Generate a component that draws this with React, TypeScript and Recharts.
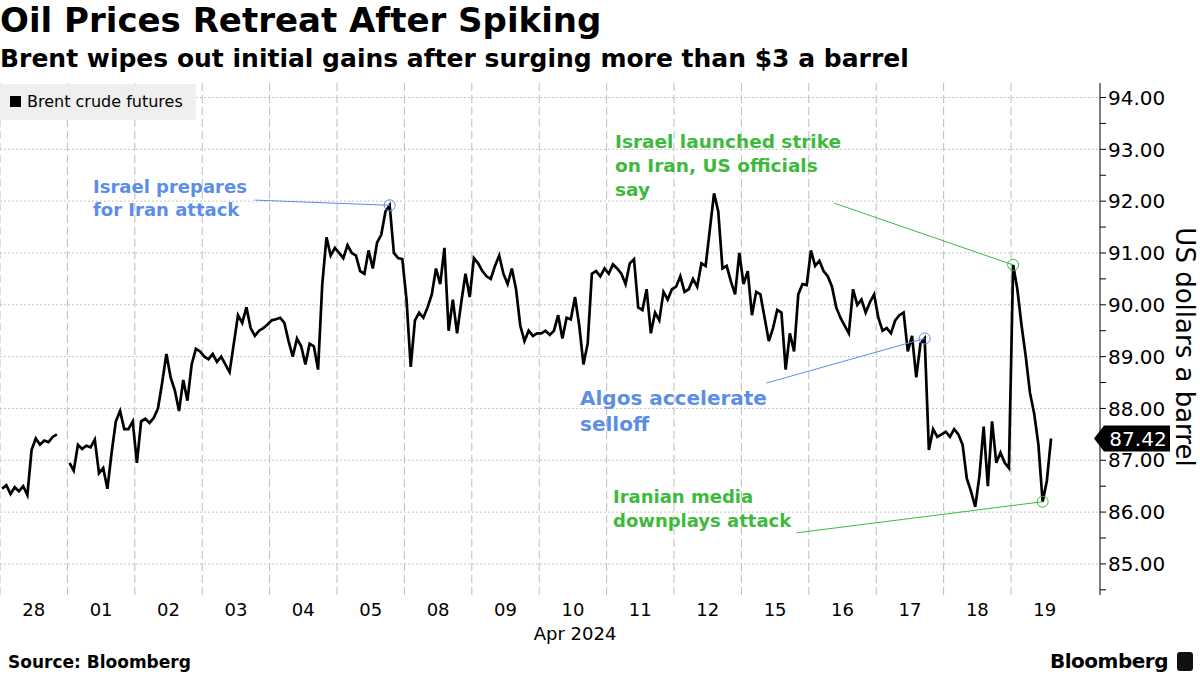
import React from "react"
import {
  LineChart,
  Line,
  XAxis,
  YAxis,
  CartesianGrid,
  ReferenceLine,
  ReferenceDot,
} from "recharts"

// Trading days shown on the x axis
const dayLabels = ["28", "01", "02", "03", "04", "05", "08", "09", "10", "11", "12", "15", "16", "17", "18", "19"]

// Brent crude futures, intraday samples per day (USD / barrel)
const mar28 = [86.45, 86.52, 86.35, 86.48, 86.4, 86.5, 86.33, 87.2, 87.42, 87.3, 87.38, 87.35, 87.45, 87.5, null, null]
const apr01 = [86.95, 86.8, 87.3, 87.22, 87.28, 87.25, 87.4, 86.75, 86.85, 86.45, 87.15, 87.75, 87.95, 87.6, 87.6, 87.75]
const apr02 = [86.95, 87.75, 87.8, 87.72, 87.82, 88.0, 88.5, 89.05, 88.6, 88.35, 87.95, 88.55, 88.15, 88.85, 89.15, 89.1]
const apr03 = [89.0, 88.95, 89.05, 88.9, 89.0, 88.85, 88.7, 89.25, 89.8, 89.65, 89.95, 89.55, 89.4, 89.5, 89.55, 89.62]
const apr04 = [89.7, 89.72, 89.75, 89.65, 89.3, 89.0, 89.35, 89.2, 88.85, 89.25, 89.2, 88.75, 90.4, 91.3, 90.95, 91.1]
const apr05 = [91.0, 90.9, 91.15, 91.0, 90.95, 90.65, 90.6, 91.05, 90.7, 91.2, 91.35, 91.8, 91.92, 91.0, 90.9, 90.88]
const apr08 = [90.1, 88.8, 89.7, 89.85, 89.75, 89.95, 90.2, 90.7, 90.4, 91.1, 89.5, 90.1, 89.45, 90.05, 90.6, 90.15]
const apr09 = [90.9, 90.8, 90.65, 90.55, 90.5, 90.75, 90.95, 90.6, 90.4, 90.7, 90.3, 89.6, 89.3, 89.5, 89.4, 89.45]
const apr10 = [89.45, 89.5, 89.42, 89.5, 89.8, 89.35, 89.75, 89.72, 90.15, 89.6, 88.85, 89.25, 90.6, 90.65, 90.55, 90.7]
const apr11 = [90.6, 90.78, 90.7, 90.6, 90.4, 90.8, 90.88, 89.95, 89.9, 90.3, 89.45, 89.85, 89.7, 90.25, 90.1, 90.3]
const apr12 = [90.35, 90.55, 90.25, 90.3, 90.5, 90.35, 90.8, 90.75, 91.45, 92.15, 91.8, 90.7, 90.75, 90.45, 90.2, 91.0]
const apr15 = [90.4, 90.65, 89.8, 90.25, 90.2, 89.75, 89.3, 89.55, 89.9, 89.85, 88.75, 89.45, 89.1, 90.2, 90.4, 90.38]
const apr16 = [91.05, 90.75, 90.85, 90.65, 90.55, 90.35, 89.95, 89.75, 89.6, 89.45, 90.3, 90.0, 90.1, 89.85, 90.05, 90.2]
const apr17 = [89.75, 89.5, 89.55, 89.45, 89.7, 89.8, 89.85, 89.1, 89.4, 88.6, 89.25, 89.35, 87.2, 87.6, 87.45, 87.5]
const apr18 = [87.55, 87.45, 87.6, 87.5, 87.3, 86.65, 86.4, 86.1, 86.7, 87.65, 86.5, 87.75, 86.95, 87.15, 86.95, 86.85]
const apr19 = [90.77, 90.3, 89.6, 89.0, 88.3, 87.9, 87.3, 86.2, 86.6, 87.42, null, null, null, null, null, null]

const days = [mar28, apr01, apr02, apr03, apr04, apr05, apr08, apr09, apr10, apr11, apr12, apr15, apr16, apr17, apr18, apr19]

const yTicks = [85, 86, 87, 88, 89, 90, 91, 92, 93, 94]
const lastPrice = 87.42

// annotations: [day index, sample index] of the circled point, leader line start in data units
const notes = [
  { text: ["Israel prepares", "for Iran attack"], color: "#5b8ee6", at: [5, 12], from: [3.78, 92.02] },
  { text: ["Israel launched strike", "on Iran, US officials", "say"], color: "#3dba3d", at: [15, 0], from: [12.38, 91.96] },
  { text: ["Algos accelerate", "selloff"], color: "#5b8ee6", at: [13, 11], from: [11.37, 88.49] },
  { text: ["Iranian media", "downplays attack"], color: "#3dba3d", at: [15, 7], from: [11.82, 85.6] },
]

const points: { t: number; price: number | null }[] = []
days.forEach((prices, d) => {
  prices.forEach((p, i) => {
    points.push({ t: d + (i + 0.5) / prices.length, price: p })
  })
})

const sampleAt = (d: number, i: number) => ({
  x: d + (i + 0.5) / days[d].length,
  y: days[d][i] as number,
})

const dayCenters = dayLabels.map((_, i) => i + 0.5)
const dayBounds = dayLabels.map((_, i) => i)
const minorTicks: number[] = []
for (let v = 84.5; v <= 94; v += 0.5) minorTicks.push(v)

const font = "'DejaVu Sans', sans-serif"

const PriceTick = (props: any) => {
  const { x, y, payload } = props
  if (payload.value % 1 !== 0) return null
  return (
    <text x={x} y={y} dy="0.36em" fontSize={20} fill="#000" fontFamily={font}>
      {payload.value.toFixed(2)}
    </text>
  )
}

const Badge = (props: any) => {
  const { cx, cy } = props
  return (
    <g>
      <polygon
        points={`${cx - 6},${cy} ${cx + 4},${cy - 13} ${cx + 70},${cy - 13} ${cx + 70},${cy + 13} ${cx + 4},${cy + 13}`}
        fill="#000"
      />
      <text x={cx + 38} y={cy} dy="0.36em" textAnchor="middle" fontSize={20} fill="#fff" fontFamily={font}>
        {lastPrice.toFixed(2)}
      </text>
    </g>
  )
}

const notePos = [
  { left: 93, top: 175, size: 18, lh: 23 },
  { left: 615, top: 130, size: 18.5, lh: 24 },
  { left: 580, top: 385, size: 20, lh: 26 },
  { left: 613, top: 485, size: 18, lh: 24 },
]

export default function App() {
  return (
    <div style={{ position: "absolute", left: 0, top: 0, width: 1200, height: 675, background: "#fff", fontFamily: font, overflow: "hidden" }}>
      <div style={{ position: "absolute", left: 0, top: 0, fontSize: 34, fontWeight: "bold", lineHeight: "40px", whiteSpace: "nowrap" }}>
        Oil Prices Retreat After Spiking
      </div>
      <div style={{ position: "absolute", left: 0, top: 44, fontSize: 25, fontWeight: "bold", lineHeight: "30px", whiteSpace: "nowrap" }}>
        Brent wipes out initial gains after surging more than $3 a barrel
      </div>

      <div style={{ position: "absolute", left: 0, top: 0 }}>
        <LineChart width={1200} height={640} data={points} margin={{ top: 83, right: 0, bottom: 5, left: 0 }}>
          <CartesianGrid vertical={false} horizontalValues={yTicks} stroke="#c4c4c4" strokeDasharray="2 2" />
          <CartesianGrid horizontal={false} verticalValues={dayBounds} stroke="#bdbdbd" strokeDasharray="8 4" />
          <XAxis
            type="number"
            dataKey="t"
            domain={[0, 16.32]}
            ticks={dayCenters}
            interval={0}
            tickFormatter={(v: number) => dayLabels[Math.floor(v)]}
            axisLine={false}
            tickLine={false}
            tickMargin={2}
            height={40}
            tick={{ fontSize: 18, fill: "#000", fontFamily: font }}
          />
          <YAxis
            orientation="right"
            domain={[84.4, 94.28]}
            ticks={minorTicks}
            interval={0}
            width={100}
            axisLine={{ stroke: "#000" }}
            tickLine={{ stroke: "#000" }}
            tickSize={6}
            tickMargin={2}
            tick={<PriceTick />}
          />
          <Line
            type="linear"
            dataKey="price"
            stroke="#000"
            strokeWidth={2.7}
            dot={false}
            isAnimationActive={false}
            connectNulls={false}
          />
          {notes.map((n, k) => {
            const p = sampleAt(n.at[0], n.at[1])
            return (
              <ReferenceLine
                key={"l" + k}
                segment={[{ x: n.from[0], y: n.from[1] }, { x: p.x, y: p.y }]}
                stroke={n.color}
                strokeWidth={1}
              />
            )
          })}
          {notes.map((n, k) => {
            const p = sampleAt(n.at[0], n.at[1])
            return <ReferenceDot key={"d" + k} x={p.x} y={p.y} r={5.5} fill="none" stroke={n.color} strokeWidth={1} />
          })}
          <ReferenceDot x={16.32} y={lastPrice} r={0} shape={<Badge />} />
        </LineChart>
      </div>

      <div style={{ position: "absolute", left: 0, top: 84, width: 196, height: 36, background: "#efefef" }}>
        <div style={{ position: "absolute", left: 10, top: 12, width: 11, height: 11, background: "#000" }} />
        <div style={{ position: "absolute", left: 27, top: 7, fontSize: 16, lineHeight: "22px", whiteSpace: "nowrap" }}>
          Brent crude futures
        </div>
      </div>

      {notes.map((n, k) => (
        <div
          key={k}
          style={{
            position: "absolute",
            left: notePos[k].left,
            top: notePos[k].top,
            color: n.color,
            fontSize: notePos[k].size,
            lineHeight: notePos[k].lh + "px",
            fontWeight: "bold",
            whiteSpace: "nowrap",
          }}
        >
          {n.text.map((line, j) => (
            <div key={j}>{line}</div>
          ))}
        </div>
      ))}

      <div style={{ position: "absolute", left: 575, top: 622, transform: "translateX(-50%)", fontSize: 18, lineHeight: "24px", whiteSpace: "nowrap" }}>
        Apr 2024
      </div>
      <div
        style={{
          position: "absolute",
          left: 1185,
          top: 347,
          transform: "translate(-50%, -50%) rotate(90deg)",
          fontSize: 26,
          whiteSpace: "nowrap",
        }}
      >
        US dollars a barrel
      </div>

      <div style={{ position: "absolute", left: 8, top: 650, fontSize: 17, fontWeight: "bold", lineHeight: "24px" }}>
        Source: Bloomberg
      </div>
      <div style={{ position: "absolute", right: 32, top: 648, fontSize: 20, fontWeight: "bold", lineHeight: "26px", letterSpacing: -0.5 }}>
        Bloomberg
      </div>
      <div style={{ position: "absolute", left: 1177, top: 652, width: 16, height: 19, background: "#111", borderRadius: 3 }} />
    </div>
  )
}
